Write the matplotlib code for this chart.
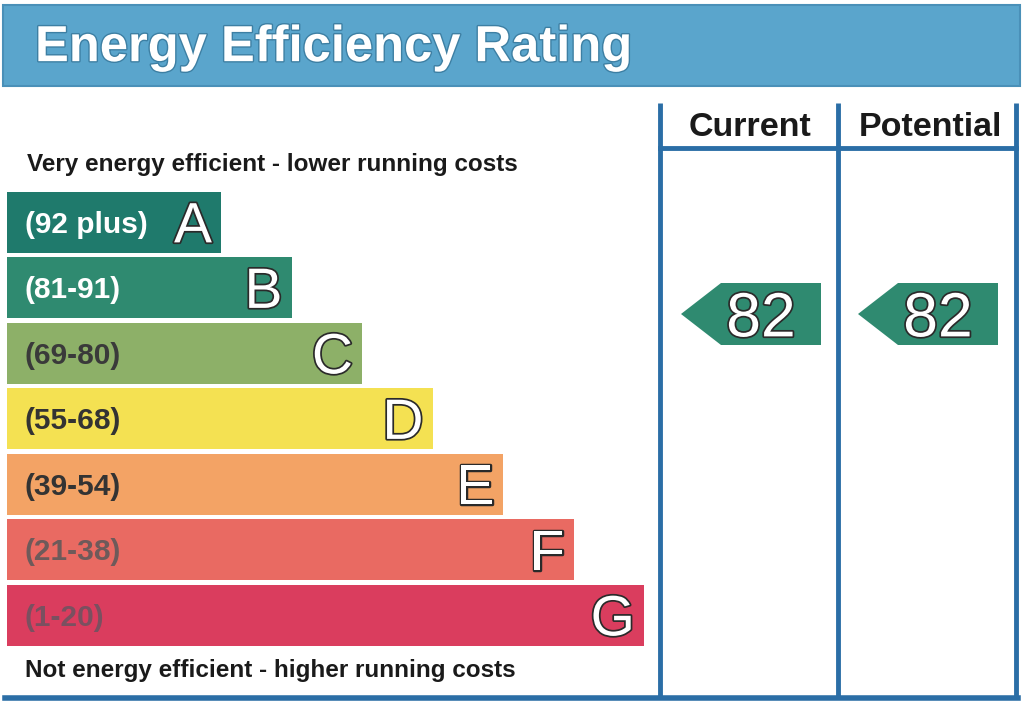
import matplotlib
matplotlib.use("Agg")
import matplotlib.pyplot as plt
import matplotlib.patheffects as pe
from matplotlib.patches import Rectangle, Polygon

plt.rcParams['font.family'] = ['Liberation Sans', 'DejaVu Sans']

# rating bands
letters = ['A', 'B', 'C', 'D', 'E', 'F', 'G']
ranges = ['(92 plus)', '(81-91)', '(69-80)', '(55-68)', '(39-54)', '(21-38)', '(1-20)']
band_colors = ['#1f7a6c', '#2f8a70', '#8db068', '#f4e152', '#f3a365', '#e96a62', '#da3d5e']
range_text_colors = ['white', 'white', '#3a3a3a', '#333333', '#333333', '#6e5a5a', '#7a5060']
current = 82
potential = 82

blue = '#5aa5cc'
line_blue = '#2b6ea6'
CAP = 0.716 * 100 / 72  # cap height in px per pt


def base(yc, size):
    # baseline that puts the capital letters centred on yc
    return yc + CAP * size / 2


fig = plt.figure(figsize=(10.24, 7.11), dpi=100)
ax = fig.add_axes([0, 0, 1, 1])
ax.set_xlim(0, 1024)
ax.set_ylim(711, 0)
ax.axis('off')

# header
ax.add_patch(Rectangle((3, 5), 1017, 81, facecolor=blue, edgecolor='#4a90b8', lw=1.5))
ax.text(35, base(43, 36.5), 'Energy Efficiency Rating', color='white', fontsize=36.5,
        fontweight='bold', va='baseline', ha='left',
        path_effects=[pe.withStroke(linewidth=2, foreground='#3d7fa3')])

# bars
centers = [222 + 65.5 * i for i in range(len(letters))]
widths = [214 + 70.5 * i for i in range(len(letters))]
ax.barh(centers, widths, height=61, left=7, color=band_colors, edgecolor='none')
for i in range(len(letters)):
    ax.text(25, base(centers[i], 21.5), ranges[i], color=range_text_colors[i], fontsize=21.5,
            fontweight='bold', va='baseline', ha='left')
    ax.text(7 + widths[i] - 9, base(centers[i], 41), letters[i], color='white', fontsize=41,
            va='baseline', ha='right',
            path_effects=[pe.withStroke(linewidth=2.5, foreground='#2a2a2a')])

ax.text(27, base(162, 17.5), 'Very energy efficient - lower running costs', fontsize=17.5,
        fontweight='bold', color='#1a1a1a', va='baseline', ha='left')
ax.text(25, base(668, 17.5), 'Not energy efficient - higher running costs', fontsize=17.5,
        fontweight='bold', color='#1a1a1a', va='baseline', ha='left')

# columns frame
for x in [660, 838, 1016]:
    ax.plot([x, x], [103, 698], color=line_blue, lw=3.5, solid_capstyle='butt')
ax.plot([660, 1016], [148, 148], color=line_blue, lw=3.5)
ax.plot([5, 1018], [698, 698], color=line_blue, lw=4)
ax.text(750, base(124, 24.5), 'Current', fontsize=24.5, fontweight='bold', color='#1a1a1a',
        va='baseline', ha='center')
ax.text(930, base(124, 24.5), 'Potential', fontsize=24.5, fontweight='bold', color='#1a1a1a',
        va='baseline', ha='center')


def band_of(v):
    lows = [92, 81, 69, 55, 39, 21, 1]
    for i, lo in enumerate(lows):
        if v >= lo:
            return i
    return len(lows) - 1


# rating arrows
for x0, val in [(681, current), (858, potential)]:
    yc = 314
    col = band_colors[band_of(val)]
    ax.add_patch(Polygon([(x0, yc), (x0 + 40, yc - 31), (x0 + 140, yc - 31),
                          (x0 + 140, yc + 31), (x0 + 40, yc + 31)],
                         closed=True, facecolor=col, edgecolor='none'))
    ax.text(x0 + 80, base(yc, 45), str(val), color='white', fontsize=45, va='baseline',
            ha='center', path_effects=[pe.withStroke(linewidth=2.5, foreground='#2a2a2a')])

fig.savefig('out.png', dpi=100)
